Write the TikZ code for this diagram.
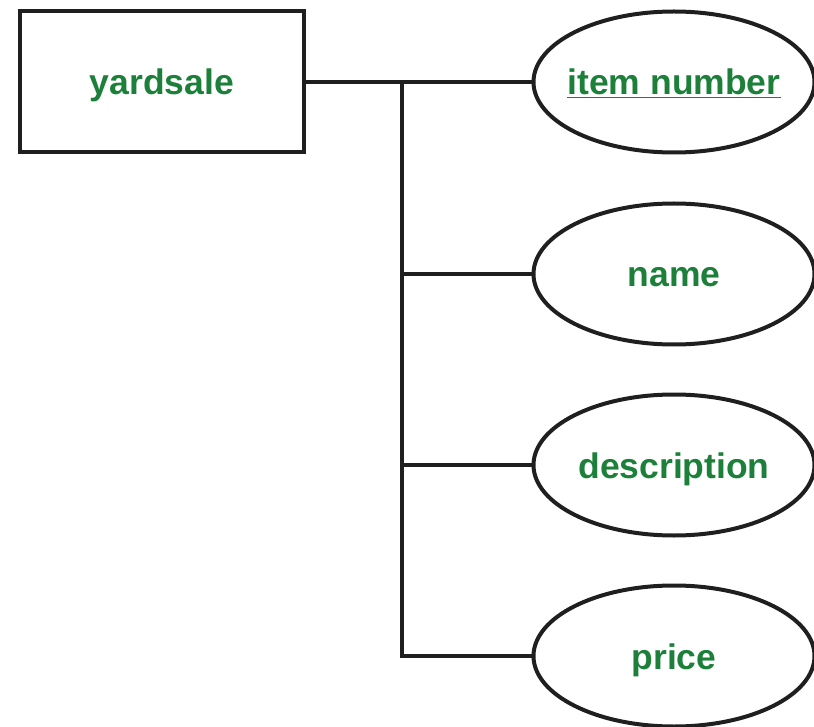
\documentclass[tikz,border=0pt]{standalone}
\usepackage{fontspec}
\setmainfont{Liberation Sans}
\usetikzlibrary{shapes.geometric}
\definecolor{txtgreen}{RGB}{28,128,58}
\begin{document}
\begin{tikzpicture}[x=1pt,y=-1pt,
  lbl/.style={text=txtgreen,font=\fontsize{35.5}{40}\selectfont\bfseries,text height=32pt,text depth=6pt,inner sep=0pt},
  entity/.style={draw=black!88,line width=4pt,minimum width=284pt,minimum height=141pt,inner sep=0pt},
  attr/.style={draw=black!88,line width=4pt,ellipse,minimum width=281pt,minimum height=141pt,inner sep=0pt},
  conn/.style={draw=black!88,line width=4pt}]
\useasboundingbox (0,0) rectangle (814,727);
\node[entity,lbl] (ys) at (162,82) {yardsale};
\node[attr] (a1) at (674,82) {};
\node[attr] (a2) at (674,274) {};
\node[attr] (a3) at (674,465) {};
\node[attr] (a4) at (674,656) {};
\node[lbl] (t1) at (a1) {\underline{item number}};
\node[lbl] (t2) at (a2) {name};
\node[lbl] (t3) at (a3) {description};
\node[lbl] (t4) at (a4) {price};
\coordinate (j1) at (402,82);
\coordinate (j2) at (402,274);
\coordinate (j3) at (402,465);
\coordinate (j4) at (402,656);
\draw[conn] (ys.east) -- (a1.west);
\draw[conn,line cap=rect] (j1) -- (j4);
\draw[conn] (j2) -- (a2.west);
\draw[conn] (j3) -- (a3.west);
\draw[conn] (j4) -- (a4.west);
\end{tikzpicture}
\end{document}
